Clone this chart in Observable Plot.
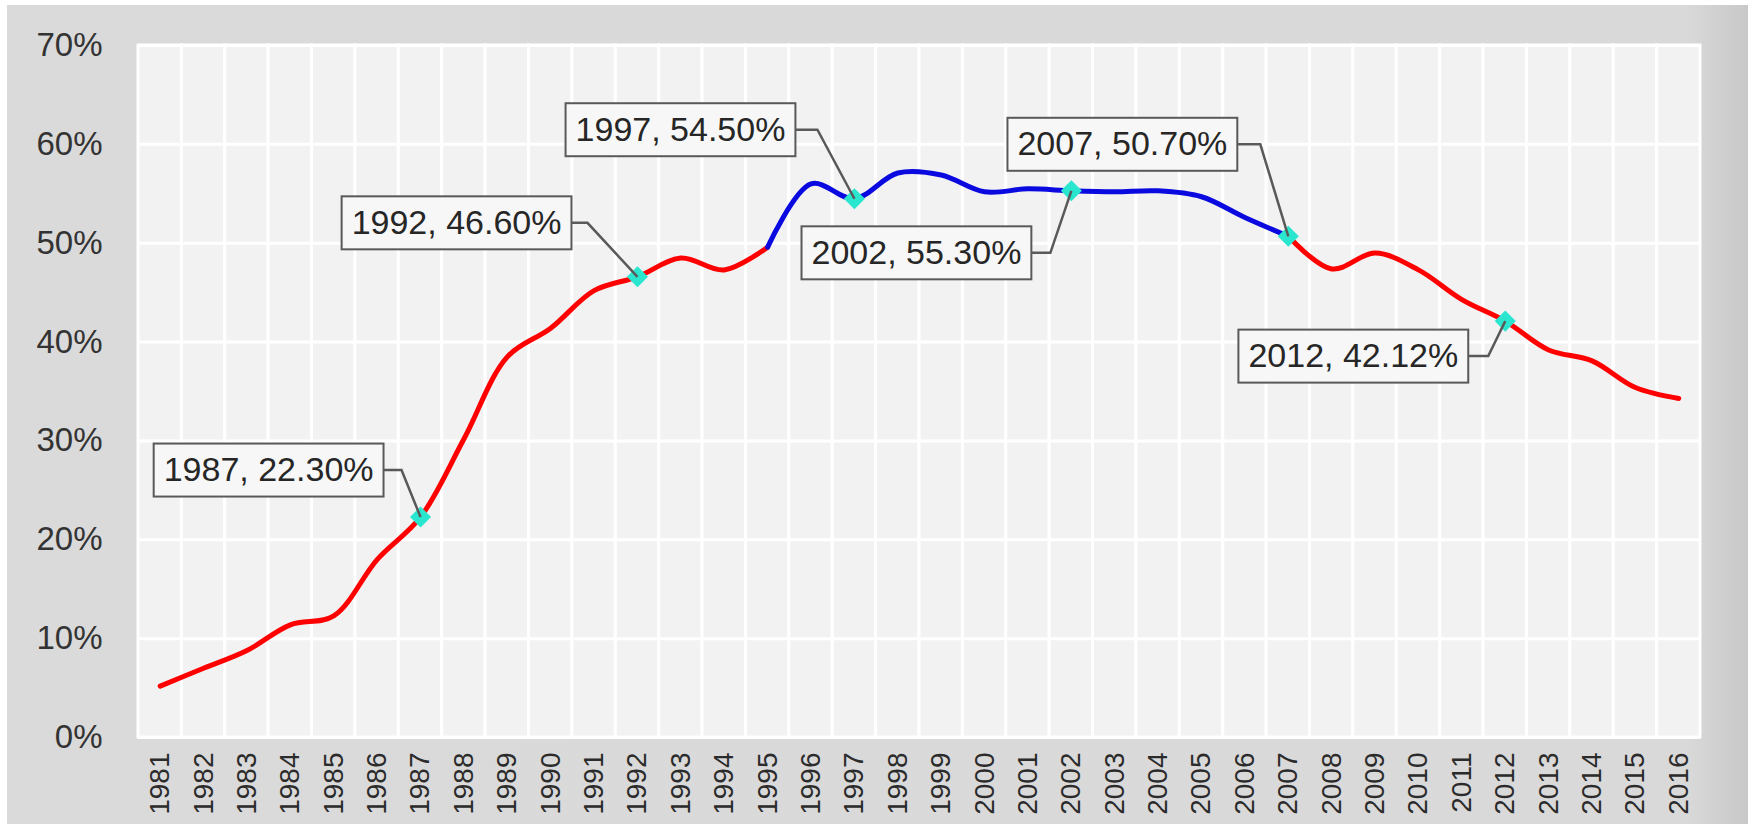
<!DOCTYPE html>
<html>
<head>
<meta charset="utf-8">
<script src="https://cdn.jsdelivr.net/npm/d3@7"></script>
<script src="https://cdn.jsdelivr.net/npm/@observablehq/plot@0.6"></script>
<style>
html, body { margin: 0; padding: 0; background: #ffffff; }
#chart { position: absolute; left: 7px; top: 5px; width: 1741px; }
</style>
</head>
<body>
<div id="chart"></div>
<script>
// ---- data ----
const years = [1981,1982,1983,1984,1985,1986,1987,1988,1989,1990,1991,1992,1993,1994,1995,1996,1997,1998,
               1999,2000,2001,2002,2003,2004,2005,2006,2007,2008,2009,2010,2011,2012,2013,2014,2015,2016];
const values = [5.2,7.0,8.8,11.4,12.3,18.0,22.3,30.2,38.5,41.4,45.2,46.6,48.5,47.3,49.6,56.0,54.5,57.1,
                56.9,55.2,55.5,55.3,55.2,55.3,54.7,52.6,50.7,47.4,49.0,47.3,44.3,42.12,39.2,38.1,35.4,34.3];
const blueFrom = 1995;
const blueTo = 2007;
const annotYears = [1987, 1992, 1997, 2002, 2007, 2012];
const annotValues = [22.30, 46.60, 54.50, 55.30, 50.70, 42.12];
const yTicks = [0, 10, 20, 30, 40, 50, 60, 70];

// ---- label placement (pixel offsets from the marker, style only) ----
const labelBoxRight = [-37, -66, -59, -40, -51, -37];
const labelCenterDy = [-47, -54, -69, 62, -92, 35];
const leaderElbow  = [-19, -50, -37, -21, -28, -17];
const padX = 10, boxH = 53;

const rows = [];
years.forEach((year, i) => {
  const value = values[i];
  if (year <= blueFrom) rows.push({year, value, seg: "early"});
  if (year >= blueFrom && year <= blueTo) rows.push({year, value, seg: "mid"});
  if (year >= blueTo) rows.push({year, value, seg: "late"});
});
const annots = annotYears.map((year, i) => ({year, value: annotValues[i], label: `${year}, ${annotValues[i].toFixed(2)}%`}));

const diamond = {
  draw(context, size) {
    const r = Math.sqrt(size) * 0.62625;
    context.moveTo(0, -r); context.lineTo(r, 0); context.lineTo(0, r); context.lineTo(-r, 0); context.closePath();
  }
};

const W = 1741, H = 819;
const svg = Plot.plot({
  width: W, height: H,
  marginLeft: 131, marginRight: 48, marginTop: 40, marginBottom: 87,
  style: {
    background: "linear-gradient(to right, #dadada 0%, #d9d9d9 96.5%, #c8c8c8 100%)",
    fontFamily: "'Liberation Sans', Arial, sans-serif",
    color: "#333333",
    overflow: "visible"
  },
  x: {type: "band", domain: years, padding: 0, round: false, tickRotate: -90, tickSize: 0, tickPadding: 15, tickFormat: d => String(d), label: null},
  y: {domain: [0, 70], ticks: yTicks, tickFormat: d => d + "%", tickSize: 0, tickPadding: 36, label: null},
  marks: [
    Plot.barY(years, {x: d => d, y1: 0, y2: 70, fill: "#f2f2f2", stroke: "#ffffff", strokeWidth: 3}),
    Plot.ruleY(yTicks, {stroke: "#ffffff", strokeWidth: 3}),
    Plot.line(rows, {filter: d => d.seg === "early", x: "year", y: "value", stroke: "#ff0000", strokeWidth: 5, curve: "catmull-rom"}),
    Plot.line(rows, {filter: d => d.seg === "late", x: "year", y: "value", stroke: "#ff0000", strokeWidth: 5, curve: "catmull-rom"}),
    Plot.line(rows, {filter: d => d.seg === "mid", x: "year", y: "value", stroke: "#0a0ae0", strokeWidth: 5, curve: "catmull-rom"}),
    Plot.dot(annots, {x: "year", y: "value", symbol: diamond, r: 9.5, fill: "#2ae6cf", stroke: "none"}),
    ...annots.map((a, i) => Plot.text([a], {
      x: "year", y: "value", text: "label",
      dx: labelBoxRight[i] - padX, dy: labelCenterDy[i],
      textAnchor: "end", fontSize: 34, fill: "#262626"
    }))
  ]
});
document.getElementById("chart").append(svg);

// axis font sizes (tick labels are found by their text)
svg.querySelectorAll("text").forEach(t => {
  const s = t.textContent.trim();
  if (/^\d{4}$/.test(s)) { t.setAttribute("font-size", 28); t.style.fontSize = "28px"; t.style.fill = "#2b2b2b"; }
  else if (/^\d+%$/.test(s)) { t.style.fontSize = "33px"; t.style.fill = "#333333"; }
});

// annotation boxes and leader lines
const NS = "http://www.w3.org/2000/svg";
function toSvg(el, x, y) {
  const p = svg.createSVGPoint(); p.x = x; p.y = y;
  return p.matrixTransform(el.getCTM());
}
const dotEls = Array.from(svg.querySelectorAll('g[aria-label="dot"] path, g[aria-label="dot"] circle'));
const markers = dotEls.map(el => { const b = el.getBBox(); return toSvg(el, b.x + b.width / 2, b.y + b.height / 2); });
const textGroups = Array.from(svg.querySelectorAll('g[aria-label="text"]')).filter(g => /^\d{4}, /.test(g.textContent));
textGroups.forEach((g, i) => {
  const t = g.querySelector("text");
  const b = t.getBBox();
  const left = toSvg(t, b.x, b.y).x - padX;
  const m = markers[i];
  const right = m.x + labelBoxRight[i];
  const cy = m.y + labelCenterDy[i];
  const rect = document.createElementNS(NS, "rect");
  rect.setAttribute("x", left); rect.setAttribute("y", cy - boxH / 2);
  rect.setAttribute("width", right - left); rect.setAttribute("height", boxH);
  rect.setAttribute("fill", "#f7f7f7"); rect.setAttribute("stroke", "#595959"); rect.setAttribute("stroke-width", 2);
  g.parentNode.insertBefore(rect, g);
  const leader = document.createElementNS(NS, "polyline");
  leader.setAttribute("points", `${right},${cy} ${m.x + leaderElbow[i]},${cy} ${m.x},${m.y}`);
  leader.setAttribute("fill", "none"); leader.setAttribute("stroke", "#595959"); leader.setAttribute("stroke-width", 2.5);
  g.parentNode.insertBefore(leader, textGroups[0]);
});
</script>
</body>
</html>
